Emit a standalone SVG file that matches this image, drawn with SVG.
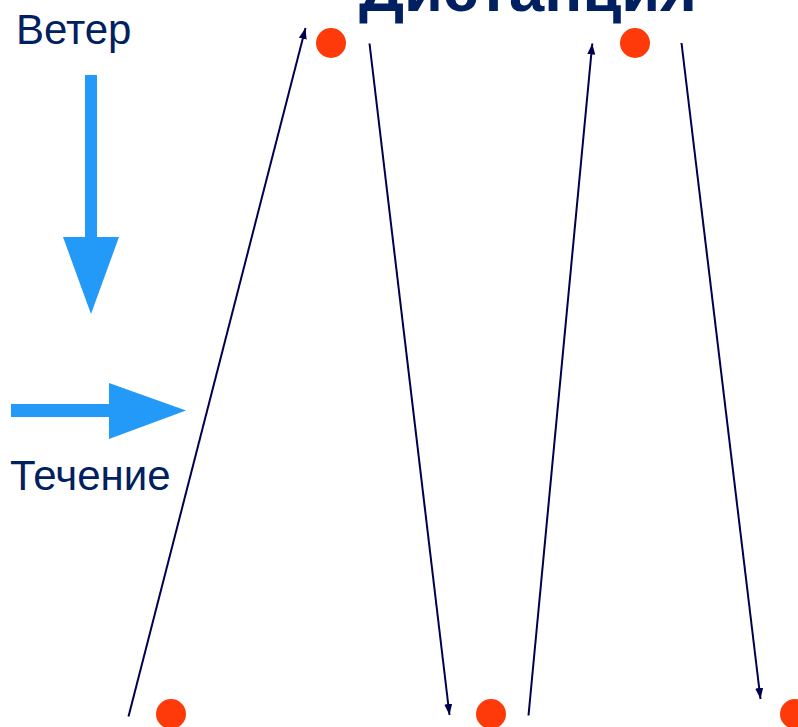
<svg xmlns="http://www.w3.org/2000/svg" width="798" height="727" viewBox="0 0 798 727">
<style>
.lbl{font-family:"Liberation Sans",Arial,sans-serif;font-size:42px;fill:#002060}
.title{font-family:"Liberation Sans",Arial,sans-serif;font-size:63px;font-weight:bold;fill:#002060}
.blue{fill:#239AF8}
.dot{fill:#FF3A0A}
.conn{stroke:#00004F;stroke-width:2;fill:none;marker-end:url(#ah)}
</style>
<defs>
<marker id="ah" markerUnits="userSpaceOnUse" markerWidth="12" markerHeight="9" refX="11" refY="4" orient="auto">
<path d="M0,0 L11,4 L0,8 z" fill="#00004F"/>
</marker>
</defs>
<rect width="798" height="727" fill="#ffffff"/>
<g id="title"><text class="title" x="359" y="11" textLength="338" lengthAdjust="spacingAndGlyphs">Дистанция</text></g>
<g id="wind">
<text class="lbl" x="16" y="44">Ветер</text>
<path class="blue" d="M85,75 H97 V237 H119 L91,314 L63,237 H85 Z"/>
</g>
<g id="current">
<path class="blue" d="M11,404 H109 V383 L186,410.5 L109,439 V417 H11 Z"/>
<text class="lbl" x="10" y="490">Течение</text>
</g>
<g id="mark1"><circle class="dot" cx="331" cy="43" r="15"/></g>
<g id="mark2"><circle class="dot" cx="635" cy="43" r="15"/></g>
<g id="start"><circle class="dot" cx="171" cy="714" r="15"/></g>
<g id="mark3"><circle class="dot" cx="491" cy="714" r="15"/></g>
<g id="mark4"><circle class="dot" cx="795" cy="714" r="15"/></g>
<g id="connectors">
<line class="conn" x1="128.5" y1="716.5" x2="305.5" y2="28"/>
<line class="conn" x1="369.5" y1="43.5" x2="449.5" y2="715"/>
<line class="conn" x1="528.5" y1="715.5" x2="592.3" y2="43.5"/>
<line class="conn" x1="681.5" y1="43" x2="760.5" y2="699"/>
</g>
</svg>
